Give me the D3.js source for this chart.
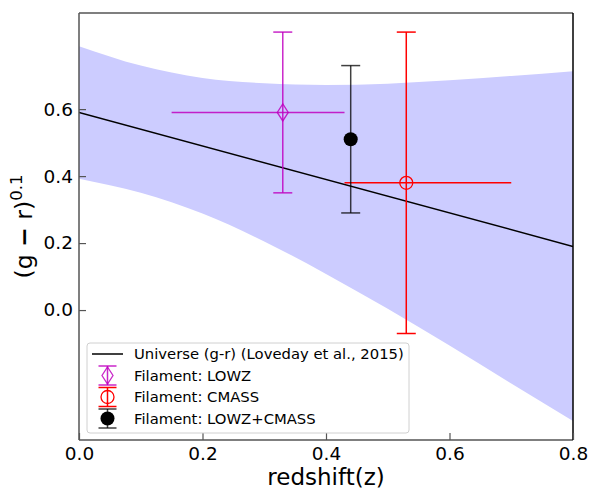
<!DOCTYPE html>
<html><head><meta charset="utf-8">
<script src="https://cdn.jsdelivr.net/npm/d3@7"></script>
<style>body{margin:0;background:#fff}svg{display:block}text{font-family:"DejaVu Sans",sans-serif}</style>
</head><body>
<script>
// ---- data ----
const bandZ     = [0.0, 0.1, 0.2, 0.3, 0.4, 0.5, 0.6, 0.7, 0.8];
const bandUpper = [0.788, 0.730, 0.693, 0.677, 0.672, 0.676, 0.686, 0.699, 0.713];
const bandLower = [0.392, 0.350, 0.288, 0.205, 0.108, 0.004, -0.106, -0.219, -0.331];
const lineZ = [0.0, 0.8];
const lineY = [0.59, 0.19];
const pointNames = ["Filament: LOWZ", "Filament: CMASS", "Filament: LOWZ+CMASS"];
const pointZ     = [0.33, 0.53, 0.44];
const pointY     = [0.59, 0.38, 0.51];
const xErrLow    = [0.18, 0.10, 0];
const xErrHigh   = [0.10, 0.17, 0];
const yErrLow    = [0.24, 0.45, 0.22];
const yErrHigh   = [0.24, 0.45, 0.22];
const xTicks = [0.0, 0.2, 0.4, 0.6, 0.8];
const yTicks = [0.0, 0.2, 0.4, 0.6];
const lineLabel = "Universe (g-r) (Loveday et al., 2015)";

const W = 591, H = 489;
const L = 79, R = 573, T = 13, B = 440;
const svg = d3.select("body").append("svg").attr("width", W).attr("height", H);
const x = d3.scaleLinear().domain([0, 0.8]).range([L, R]);
const y = d3.scaleLinear().domain([-0.388, 0.887]).range([B, T]);

const styles = [
  {color: "#bf00bf", op: 0.85, marker: "diamond"},
  {color: "#ff0000", op: 1, marker: "circleOpen"},
  {color: "#000000", op: 0.75, marker: "circleFilled"}
];

svg.append("defs").append("clipPath").attr("id", "c")
  .append("rect").attr("x", L).attr("y", T).attr("width", R - L).attr("height", B - T);
const g = svg.append("g").attr("clip-path", "url(#c)");

// band
const area = d3.area().x((d, i) => x(bandZ[i])).y0((d, i) => y(bandLower[i])).y1((d, i) => y(bandUpper[i]))
  .curve(d3.curveMonotoneX);
g.append("path").attr("d", area(bandZ)).attr("fill", "#ccccff");

// line
g.append("path").attr("d", d3.line().x((d, i) => x(lineZ[i])).y((d, i) => y(lineY[i]))(lineZ))
  .attr("stroke", "#000").attr("stroke-width", 1.5).attr("fill", "none");

function drawMarker(sel, type, cx, cy, color) {
  if (type === "diamond") {
    sel.append("path").attr("d", `M${cx},${cy - 8.5}L${cx + 5.5},${cy}L${cx},${cy + 8.5}L${cx - 5.5},${cy}Z`)
      .attr("fill", "none").attr("stroke", color).attr("stroke-width", 1.3);
  } else if (type === "circleOpen") {
    sel.append("circle").attr("cx", cx).attr("cy", cy).attr("r", 6.5)
      .attr("fill", "none").attr("stroke", color).attr("stroke-width", 1.3);
  } else {
    sel.append("circle").attr("cx", cx).attr("cy", cy).attr("r", 7).attr("fill", "#000");
  }
}

// error bars
const cap = 9.5;
pointZ.forEach((z, i) => {
  const s = styles[i];
  const eg = g.append("g").attr("stroke", s.color).attr("stroke-opacity", s.op).attr("stroke-width", 1.5);
  const px = x(z), py = y(pointY[i]);
  const yt = y(pointY[i] + yErrHigh[i]), yb = y(pointY[i] - yErrLow[i]);
  eg.append("line").attr("x1", px).attr("x2", px).attr("y1", yt).attr("y2", yb);
  eg.append("line").attr("x1", px - cap).attr("x2", px + cap).attr("y1", yt).attr("y2", yt);
  eg.append("line").attr("x1", px - cap).attr("x2", px + cap).attr("y1", yb).attr("y2", yb);
  if (xErrLow[i] > 0 || xErrHigh[i] > 0) {
    eg.append("line").attr("x1", x(z - xErrLow[i])).attr("x2", x(z + xErrHigh[i])).attr("y1", py).attr("y2", py);
  }
  const mg = g.append("g").attr("opacity", s.marker === "diamond" ? s.op : 1);
  drawMarker(mg, s.marker, px, py, s.color);
});

// spines
const spine = "#555";
svg.append("line").attr("x1", L).attr("x2", R).attr("y1", T).attr("y2", T).attr("stroke", spine).attr("stroke-width", 1.5);
svg.append("line").attr("x1", L).attr("x2", L).attr("y1", T).attr("y2", B).attr("stroke", spine).attr("stroke-width", 1.5);
svg.append("line").attr("x1", L).attr("x2", R).attr("y1", B).attr("y2", B).attr("stroke", spine).attr("stroke-width", 1.5);
svg.append("line").attr("x1", R).attr("x2", R).attr("y1", T).attr("y2", B).attr("stroke", "#000").attr("stroke-width", 1.5);

// axes (inward ticks)
const xAxis = d3.axisBottom(x).tickValues(xTicks).tickFormat(d3.format(".1f")).tickSizeInner(-7).tickSizeOuter(0);
const yAxis = d3.axisLeft(y).tickValues(yTicks).tickFormat(d3.format(".1f")).tickSizeInner(-7).tickSizeOuter(0);
const gx = svg.append("g").attr("transform", `translate(0,${B})`).call(xAxis);
const gy = svg.append("g").attr("transform", `translate(${L},0)`).call(yAxis);
[gx, gy].forEach(a => {
  a.select(".domain").remove();
  a.selectAll(".tick line").attr("stroke", spine).attr("stroke-width", 1.2);
  a.selectAll(".tick text").attr("font-size", 18.5).attr("fill", "#000").attr("font-family", "DejaVu Sans");
});
gx.selectAll(".tick text").attr("dy", null).attr("y", 20);
gy.selectAll(".tick text").attr("x", -6);

// axis labels
svg.append("text").attr("x", (L + R) / 2).attr("y", 484.5).attr("text-anchor", "middle")
  .attr("font-size", 23).text("redshift(z)");
const yl = svg.append("text").attr("transform", `translate(32,${(T + B) / 2}) rotate(-90)`)
  .attr("text-anchor", "middle").attr("font-size", 23.5);
yl.append("tspan").text("(g ");
yl.append("tspan").attr("font-weight", "bold").text("−");
yl.append("tspan").text(" r)");
yl.append("tspan").attr("font-size", 16.5).attr("dy", -10).text("0.1");

// legend
const lg = svg.append("g");
lg.append("rect").attr("x", 87).attr("y", 343).attr("width", 322).attr("height", 90).attr("rx", 3)
  .attr("fill", "#fff").attr("fill-opacity", 0.8).attr("stroke", "#d0d0d0").attr("stroke-width", 1);
const rowY = [354, 375.5, 397, 418.5];
const hx = 107.5, tx = 134;
const fs = 14.8;
lg.append("line").attr("x1", 92).attr("x2", 123).attr("y1", rowY[0]).attr("y2", rowY[0]).attr("stroke", "#000").attr("stroke-width", 1.5);
lg.append("text").attr("x", tx).attr("y", rowY[0]).attr("dy", "0.36em").attr("font-size", fs).text(lineLabel);
pointNames.forEach((name, i) => {
  const s = styles[i], cy = rowY[i + 1];
  const eg = lg.append("g").attr("stroke", s.color).attr("stroke-opacity", s.op).attr("stroke-width", 1.5);
  eg.append("line").attr("x1", hx).attr("x2", hx).attr("y1", cy - 9.5).attr("y2", cy + 9.5);
  eg.append("line").attr("x1", hx - 9).attr("x2", hx + 9).attr("y1", cy - 9.5).attr("y2", cy - 9.5);
  eg.append("line").attr("x1", hx - 9).attr("x2", hx + 9).attr("y1", cy + 9.5).attr("y2", cy + 9.5);
  const mg = lg.append("g").attr("opacity", s.marker === "diamond" ? s.op : 1);
  drawMarker(mg, s.marker, hx, cy, s.color);
  lg.append("text").attr("x", tx).attr("y", cy).attr("dy", "0.36em").attr("font-size", fs).text(name);
});
</script>
</body></html>
